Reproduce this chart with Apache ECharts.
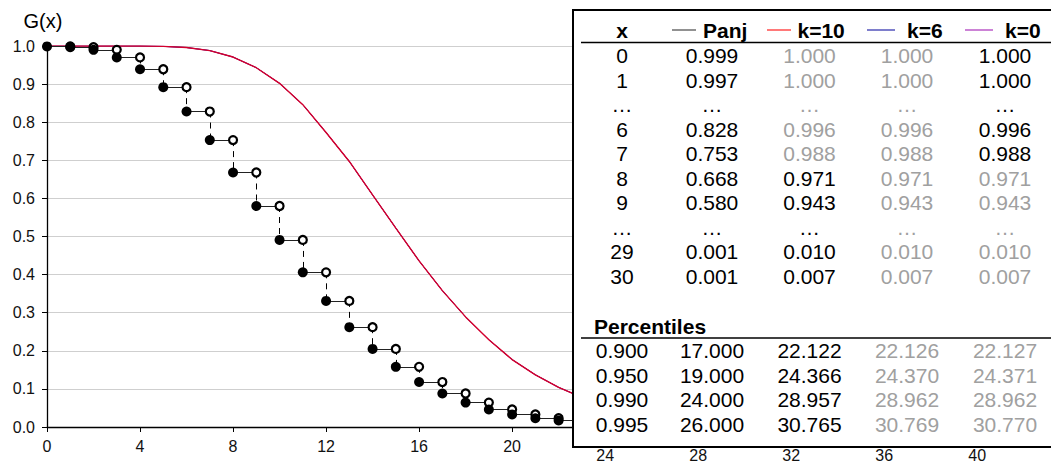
<!DOCTYPE html>
<html><head><meta charset="utf-8">
<script src="https://cdn.jsdelivr.net/npm/echarts@6/dist/echarts.min.js"></script>
<style>html,body{margin:0;padding:0;background:#fff}#c{width:1051px;height:463px}</style>
</head><body><div id="c"></div>
<script>
// ---- data ----
const xValues = [0,1,2,3,4,5,6,7,8,9,10,11,12,13,14,15,16,17,18,19,20,21,22,23,24,25,26,27,28,29,30];
const panj = [0.999,0.997,0.990,0.970,0.939,0.892,0.828,0.753,0.668,0.580,0.491,0.406,0.331,0.262,0.205,0.158,0.118,0.088,0.064,0.046,0.033,0.023,0.017,0.012,0.008,0.005,0.004,0.003,0.002,0.001,0.001];
const k10 = [1.000,1.000,1.000,1.000,1.000,0.999,0.996,0.988,0.971,0.943,0.902,0.846,0.773,0.697,0.609,0.522,0.436,0.358,0.289,0.229,0.177,0.137,0.104,0.078,0.057,0.042,0.030,0.021,0.015,0.010,0.007];
const k6  = [1.000,1.000,1.000,1.000,1.000,0.999,0.996,0.988,0.971,0.943,0.902,0.846,0.773,0.697,0.609,0.522,0.436,0.358,0.289,0.229,0.177,0.137,0.104,0.078,0.057,0.042,0.030,0.021,0.015,0.010,0.007];
const k0  = [1.000,1.000,1.000,1.000,1.000,0.999,0.996,0.988,0.971,0.943,0.902,0.846,0.773,0.697,0.609,0.522,0.436,0.358,0.289,0.229,0.177,0.137,0.104,0.078,0.057,0.042,0.030,0.021,0.015,0.010,0.007];

const tblHeaders = ['x','Panj','k=10','k=6','k=0'];
const tblX    = ['0','1','…','6','7','8','9','…','29','30'];
const tblPanj = ['0.999','0.997','…','0.828','0.753','0.668','0.580','…','0.001','0.001'];
const tblK10  = ['1.000','1.000','…','0.996','0.988','0.971','0.943','…','0.010','0.007'];
const tblK6   = ['1.000','1.000','…','0.996','0.988','0.971','0.943','…','0.010','0.007'];
const tblK0   = ['1.000','1.000','…','0.996','0.988','0.971','0.943','…','0.010','0.007'];

const pctTitle = 'Percentiles';
const pctLevels = ['0.900','0.950','0.990','0.995'];
const pctPanj = ['17.000','19.000','24.000','26.000'];
const pctK10  = ['22.122','24.366','28.957','30.765'];
const pctK6   = ['22.126','24.370','28.962','30.769'];
const pctK0   = ['22.127','24.371','28.962','30.770'];

// ---- styles ----
const greyK10 = [1,1,1,1,1,0,0,0,0,0];
const greyK6  = [1,1,1,1,1,1,1,1,1,1];
const greyK0  = [0,0,0,0,0,1,1,1,1,1];
const pctGrey = [0,0,0,1,1];
const FONT = '"Liberation Sans", Arial, sans-serif';
const GREY = '#a0a0a0';
const colCenters = [622, 712, 809.5, 907, 1005];
const swatch = [null,[672,696,'#555555'],[767,791,'#ff3030'],[867,895,'#3838b0'],[965,993,'#b040c0']];
const headerTextLeft = [null,703,797.5,907,1005];

const chart = echarts.init(document.getElementById('c'), null, {renderer:'svg'});

const pts = (arr) => xValues.map((x,i)=>[x, arr[i]]);
const horiz = xValues.map((x,i)=>({coords:[[x, panj[i]],[x+1, panj[i]]]}));
const vert = xValues.slice(0,-1).map((x,i)=>({coords:[[x+1, panj[i]],[x+1, panj[i+1]]]}));
const openPts = xValues.map((x,i)=>[x+1, panj[i]]);

function txt(s, x, y, o) {
  o = o || {};
  return {type:'text', z:101, x:x, y:y, style:{text:s, fill:o.fill||'#000', fontSize:o.size||21, fontFamily:FONT,
    fontWeight:o.bold?'bold':'normal', align:o.align||'center', verticalAlign:'middle'}};
}
const g = [];
g.push({type:'rect', z:100, shape:{x:573, y:10, width:500, height:437}, style:{fill:'#fff', stroke:'#000', lineWidth:2}});
g.push({type:'line', z:101, shape:{x1:581, y1:42.5, x2:1051, y2:42.5}, style:{stroke:'#000', lineWidth:1.3}});
g.push({type:'line', z:101, shape:{x1:581, y1:338, x2:1051, y2:338}, style:{stroke:'#000', lineWidth:1.3}});
// header
const headY = 30;
g.push(txt(tblHeaders[0], colCenters[0], headY, {bold:true}));
for (let c=1;c<5;c++){
  g.push({type:'line', z:101, shape:{x1:swatch[c][0], y1:headY, x2:swatch[c][1], y2:headY}, style:{stroke:swatch[c][2], lineWidth:1.3}});
  g.push(txt(tblHeaders[c], headerTextLeft[c], headY, {bold:true, align:'left'}));
}
const cols = [tblX, tblPanj, tblK10, tblK6, tblK0];
const greys = [null, null, greyK10, greyK6, greyK0];
for (let r=0;r<tblX.length;r++){
  const y = 55.5 + r*24.55;
  for (let c=0;c<5;c++){
    const grey = greys[c] && greys[c][r];
    g.push(txt(cols[c][r], colCenters[c], y, {fill: grey?GREY:'#000'}));
  }
}
g.push(txt(pctTitle, 594, 326, {bold:true, align:'left'}));
const pcols = [pctLevels, pctPanj, pctK10, pctK6, pctK0];
for (let r=0;r<pctLevels.length;r++){
  const y = 350.8 + r*24.5;
  for (let c=0;c<5;c++){
    g.push(txt(pcols[c][r], colCenters[c], y, {fill: pctGrey[c]?GREY:'#000'}));
  }
}
g.push({type:'text', z:50, x:43, y:21, style:{text:'G(x)', fill:'#000', fontSize:20, fontFamily:FONT, align:'center', verticalAlign:'middle'}});

chart.setOption({
  animation:false,
  backgroundColor:'#fff',
  textStyle:{fontFamily:FONT},
  grid:{left:47, right:4, top:46, bottom:31, containLabel:false},
  xAxis:{type:'value', min:0, max:43, interval:4,
    axisLine:{show:true, onZero:false, lineStyle:{color:'#000', width:1.3}},
    axisTick:{show:true, length:5, inside:false, lineStyle:{color:'#000'}},
    splitLine:{show:false},
    axisLabel:{show:true, margin:11, fontSize:16, color:'#111', fontFamily:FONT, showMaxLabel:false,
      formatter:(v)=> v>=24 ? '{lo|'+v+'}' : String(v),
      rich:{lo:{fontSize:16, color:'#111', fontFamily:FONT, padding:[9,0,0,0]}}}
  },
  yAxis:{type:'value', min:0, max:1, interval:0.1,
    axisLine:{show:true, lineStyle:{color:'#000', width:1.3}},
    axisTick:{show:true, length:5, inside:false, lineStyle:{color:'#000'}},
    splitLine:{show:true, lineStyle:{color:'#cfcfcf', width:1}},
    axisLabel:{margin:12, fontSize:16, color:'#111', fontFamily:FONT, formatter:(v)=>v.toFixed(1)}
  },
  series:[
    {name:'k=0', type:'line', data:pts(k0), symbol:'none', lineStyle:{color:'#9933aa', width:1}, z:2},
    {name:'k=6', type:'line', data:pts(k6), symbol:'none', lineStyle:{color:'#3333aa', width:1}, z:2},
    {name:'k=10', type:'line', data:pts(k10), symbol:'none', lineStyle:{color:'#d4002c', width:1.4}, z:2},
    {name:'Panj-h', type:'lines', coordinateSystem:'cartesian2d', polyline:false, data:horiz, lineStyle:{color:'#222', width:1.2, opacity:1}, z:3},
    {name:'Panj-v', type:'lines', coordinateSystem:'cartesian2d', polyline:false, data:vert, lineStyle:{color:'#000', width:1, type:[6,5], opacity:1}, z:3},
    {name:'Panj-open', type:'scatter', data:openPts, symbol:'circle', symbolSize:8, itemStyle:{color:'#fff', borderColor:'#000', borderWidth:2.2, opacity:1}, z:4},
    {name:'Panj', type:'scatter', data:pts(panj), symbol:'circle', symbolSize:10, itemStyle:{color:'#000', opacity:1}, z:5}
  ],
  graphic:{elements:g}
});
</script>
</body></html>
